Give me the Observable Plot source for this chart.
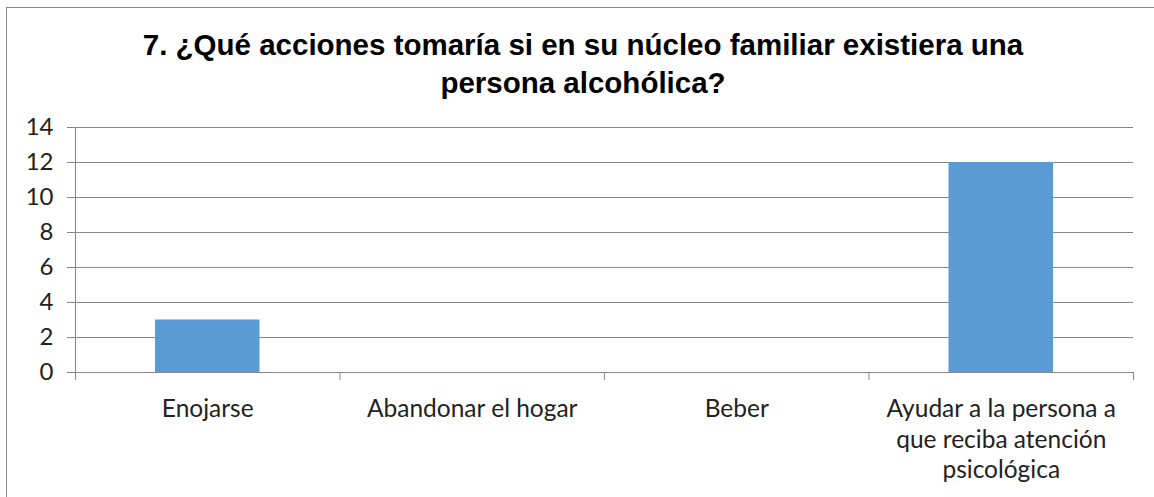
<!DOCTYPE html>
<html>
<head>
<meta charset="utf-8">
<script src="https://cdn.jsdelivr.net/npm/d3@7"></script>
<script src="https://cdn.jsdelivr.net/npm/@observablehq/plot@0.6"></script>
<style>
  html, body { margin: 0; padding: 0; background: #fff; width: 1154px; height: 497px; overflow: hidden; }
  #frame { position: absolute; left: 6px; top: 7px; width: 1170px; height: 520px; border: 1px solid #868686; box-sizing: border-box; }
  #title { position: absolute; left: 0; top: 26px; width: 1166px; text-align: center;
           font-family: "Liberation Sans", Arial, sans-serif; font-weight: bold; font-size: 29.5px; line-height: 38px; color: #000; }
  #chart { position: absolute; left: 0; top: 110px; }
</style>
</head>
<body>
<div id="frame"></div>
<div id="title">7. ¿Qué acciones tomaría si en su núcleo familiar existiera una<br>persona alcohólica?</div>
<div id="chart"></div>
<script>
const categories = ["Enojarse", "Abandonar el hogar", "Beber", "Ayudar a la persona a que reciba atención psicológica"];
const values = [3, 0, 0, 12];
const yTicks = [0, 2, 4, 6, 8, 10, 12, 14];

const data = categories.map((c, i) => ({category: c, value: values[i], index: i}));
const gray = "#868686";
const font = "Lato, 'Open Sans', sans-serif";

const chart = Plot.plot({
  width: 1154,
  height: 387,
  marginTop: 17,
  marginBottom: 125,
  marginLeft: 75,
  marginRight: 21,
  style: {fontFamily: font, fontSize: "24px", color: "#222", background: "transparent"},
  x: {domain: [0, categories.length], axis: null},
  y: {domain: [0, 14], axis: null},
  marks: [
    Plot.gridY(yTicks, {stroke: gray, strokeOpacity: 1, strokeWidth: 1}),
    Plot.axisY(yTicks, {tickSize: 8, tickPadding: 14, stroke: gray, fill: "#222", fontSize: 24, label: null, tickFormat: d => d}),
    Plot.axisX(d3.range(categories.length + 1), {tickSize: 8, stroke: gray, label: null, tickFormat: () => ""}),
    Plot.ruleX([0], {stroke: gray, y1: 0, y2: 14}),
    Plot.rectY(data, {x1: d => d.index, x2: d => d.index + 1, y: "value", fill: "#5B9BD5", insetLeft: 80, insetRight: 80}),
    Plot.text(data, {x: d => d.index + 0.5, y: 0, text: "category", lineAnchor: "top", dy: 23,
                     lineWidth: 11.1, lineHeight: 1.25, fontSize: 24.5, fill: "#222"})
  ]
});
document.getElementById("chart").appendChild(chart);
</script>
</body>
</html>
